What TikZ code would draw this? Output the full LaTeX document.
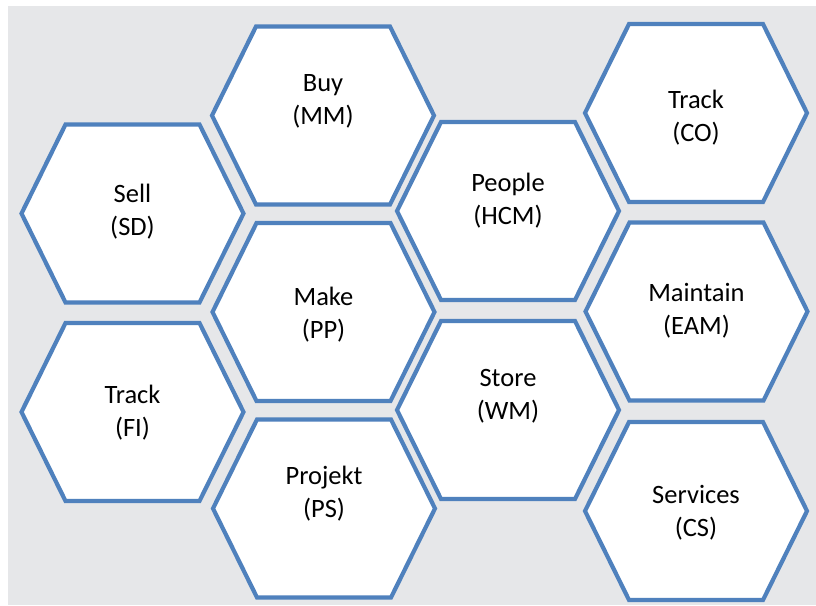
\documentclass[tikz,border=0pt]{standalone}
\usepackage{fontspec}
\setmainfont{Carlito}
\definecolor{hexblue}{HTML}{4F81BD}
\definecolor{bggray}{HTML}{E6E7E9}
\tikzset{
  hexcell/.style={draw=hexblue, fill=white, line width=4.2pt, line join=miter},
  hexlabel/.style={align=center, font=\fontsize{26.5}{33}\selectfont, text=black, inner sep=0pt},
}
\newcommand\hexcellat[5]{%
  \draw[hexcell] ({#2-111},#3) -- ({#2-67},{#3-89}) -- ({#2+67},{#3-89}) -- ({#2+111},#3)
    -- ({#2+67},{#3+89}) -- ({#2-67},{#3+89}) -- cycle;
  \node[hexlabel] (#1) at (#2,#4) {#5};
}
\begin{document}
\begin{tikzpicture}[x=1pt,y=-1pt]
\useasboundingbox (0,0) rectangle (816,605);
\fill[bggray] (8,6) rectangle (816,605);
\hexcellat{sell}{132.5}{213.5}{211.5}{Sell\\(SD)}
\hexcellat{trackfi}{132.5}{412}{413}{Track\\(FI)}
\hexcellat{buy}{323}{115.5}{101.5}{Buy\\(MM)}
\hexcellat{make}{323.5}{312}{314.5}{Make\\(PP)}
\hexcellat{projekt}{324}{508.5}{493.5}{Projekt\\(PS)}
\hexcellat{people}{508}{211}{200.5}{People\\(HCM)}
\hexcellat{store}{508}{410}{396.5}{Store\\(WM)}
\hexcellat{trackco}{696}{113}{118}{Track\\(CO)}
\hexcellat{maintain}{696.5}{311.5}{311}{Maintain\\(EAM)}
\hexcellat{services}{696}{511}{512.5}{Services\\(CS)}
\end{tikzpicture}
\end{document}
